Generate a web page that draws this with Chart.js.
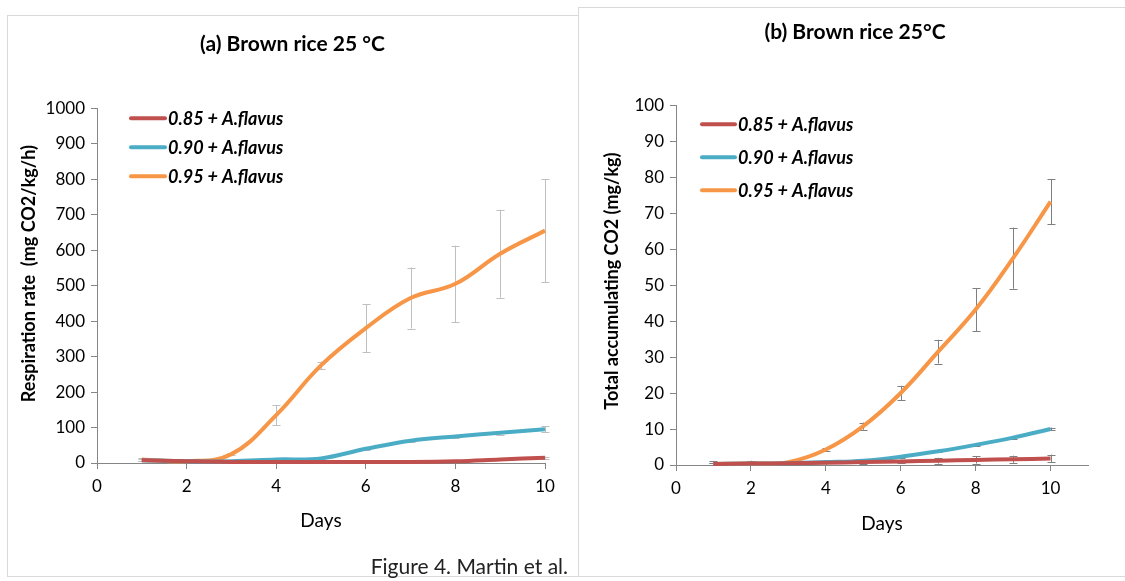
<!DOCTYPE html>
<html>
<head>
<meta charset="utf-8">
<script src="https://cdn.jsdelivr.net/npm/chart.js@4.4.1/dist/chart.umd.min.js"></script>
<style>
  body { margin: 0; width: 1125px; height: 581px; overflow: hidden; position: relative; background: #fff; font-family: Lato, sans-serif; }
  .frame { position: absolute; border: 1px solid #d9d9d9; background: #fff; box-sizing: border-box; }
  #frameA { left: 7px; top: 15px; width: 572px; height: 562px; }
  #frameB { left: 578px; top: 7px; width: 560px; height: 570px; }
  canvas { position: absolute; }
  #chartA { left: 7px; top: 15px; }
  #chartB { left: 579px; top: 8px; }
  #caption { position: absolute; right: 557px; top: 553px; font-size: 21px; line-height: 26px; color: #222; }
</style>
</head>
<body>
<div class="frame" id="frameA"></div>
<div class="frame" id="frameB"></div>
<canvas id="chartA" width="571" height="562"></canvas>
<canvas id="chartB" width="546" height="573"></canvas>
<div id="caption">Figure 4. Martin et al.</div>
<script>
const days = [1, 2, 3, 4, 5, 6, 7, 8, 9, 10];
const seriesLabels = ["0.85 + A.flavus", "0.90 + A.flavus", "0.95 + A.flavus"];
const seriesColors = ["#C0504D", "#4BACC6", "#F79646"];

// (a) respiration rate, mg CO2/kg/h
const rate085 = [8, 5, 3, 3, 3, 3, 3, 5, 10, 15];
const rate090 = [8, 5, 5, 10, 13, 40, 63, 75, 85, 95];
const rate095 = [10, 5, 25, 135, 275, 380, 465, 505, 590, 655];
const rateErr085 = [2, 1, 1, 1, 1, 1, 1, 1, 2, 3];
const rateErr090 = [2, 1, 1, 2, 2, 3, 3, 4, 5, 8];
const rateErr095 = [3, 2, 3, 28, 11, 68, 86, 108, 124, 145];

// (b) total accumulated CO2, mg/kg
const total085 = [0.3, 0.4, 0.5, 0.6, 0.8, 1.0, 1.2, 1.4, 1.6, 1.8];
const total090 = [0.3, 0.4, 0.5, 0.8, 1.2, 2.3, 3.8, 5.6, 7.6, 10.0];
const total095 = [0.3, 0.4, 0.8, 4.3, 10.8, 20.0, 31.5, 43.2, 57.5, 73.2];
const totalErr085 = [0.8, 0.8, 0.5, 0.6, 0.5, 0.5, 0.8, 1.0, 1.0, 1.1];
const totalErr090 = [0.2, 0.2, 0.2, 0.3, 0.3, 0.3, 0.3, 0.3, 0.3, 0.4];
const totalErr095 = [0.2, 0.2, 0.3, 0.4, 1.0, 2.0, 3.3, 6.0, 8.5, 6.3];

const xTicks = [0, 2, 4, 6, 8, 10];

const FONT = "Lato, 'Open Sans', sans-serif";
const AXIS_GREY = "#868686";

function makeDatasets(series, errors) {
    return series.map((vals, s) => ({
        label: seriesLabels[s],
        data: days.map((d, i) => ({ x: d, y: vals[i] })),
        errors: errors[s],
        borderColor: seriesColors[s],
        backgroundColor: seriesColors[s],
        borderWidth: 4,
        pointRadius: 0,
        tension: 0.4,
        clip: 6,
    }));
}

// vertical error bars with small caps, drawn under the lines
const errorBars = {
    id: "errorBars",
    beforeDatasetsDraw(chart, args, opts) {
        const { ctx, scales: { x, y } } = chart;
        ctx.save();
        ctx.strokeStyle = opts.color;
        ctx.lineWidth = 1;
        chart.data.datasets.forEach(ds => {
            ds.data.forEach((p, i) => {
                const err = ds.errors[i];
                const px = Math.round(x.getPixelForValue(p.x)) + 0.5;
                const top = y.getPixelForValue(p.y + err);
                const bot = y.getPixelForValue(Math.max(p.y - err, y.min));
                ctx.beginPath();
                ctx.moveTo(px, top);
                ctx.lineTo(px, bot);
                ctx.moveTo(px - opts.cap, Math.round(top) + 0.5);
                ctx.lineTo(px + opts.cap, Math.round(top) + 0.5);
                if (p.y - err > y.min) {
                    ctx.moveTo(px - opts.cap, Math.round(bot) + 0.5);
                    ctx.lineTo(px + opts.cap, Math.round(bot) + 0.5);
                }
                ctx.stroke();
            });
        });
        ctx.restore();
    },
};

// stacked legend inside the plot area, top left
const insideLegend = {
    id: "insideLegend",
    afterDraw(chart, args, opts) {
        const { ctx, chartArea } = chart;
        ctx.save();
        ctx.font = "italic bold 18px " + FONT;
        ctx.textBaseline = "middle";
        chart.data.datasets.forEach((ds, i) => {
            const lx = chartArea.left + opts.dx;
            const ly = chartArea.top + opts.dy + i * opts.gap;
            ctx.strokeStyle = ds.borderColor;
            ctx.lineWidth = 4;
            ctx.lineCap = "round";
            ctx.beginPath();
            ctx.moveTo(lx, ly);
            ctx.lineTo(lx + opts.len, ly);
            ctx.stroke();
            ctx.fillStyle = "#000";
            ctx.fillText(ds.label, lx + opts.len + 3, ly + 1);
        });
        ctx.restore();
    },
};

// rotated value-axis title, placed a little above the middle of the plot
const yAxisTitle = {
    id: "yAxisTitle",
    afterDraw(chart, args, opts) {
        const { ctx, chartArea } = chart;
        ctx.save();
        ctx.translate(opts.x, (chartArea.top + chartArea.bottom) / 2 + opts.dy);
        ctx.rotate(-Math.PI / 2);
        ctx.font = "bold 18px " + FONT;
        ctx.fillStyle = "#000";
        ctx.textAlign = "center";
        ctx.textBaseline = "middle";
        ctx.fillText(opts.text, 0, 0);
        ctx.restore();
    },
};

function makeOptions(cfg) {
    return {
        responsive: false,
        animation: false,
        layout: { padding: cfg.padding },
        plugins: {
            legend: { display: false },
            tooltip: { enabled: false },
            title: {
                display: true,
                text: cfg.title,
                color: "#000",
                font: { family: FONT, size: 21, weight: "bold" },
                padding: cfg.titlePadding,
            },
            errorBars: { color: cfg.errColor, cap: 4 },
            insideLegend: cfg.legend,
            yAxisTitle: cfg.yTitle,
        },
        scales: {
            x: {
                type: "linear",
                min: 0,
                max: cfg.xMax,
                afterFit: s => { s.height = 70; },
                afterBuildTicks: s => { s.ticks = xTicks.map(v => ({ value: v })); },
                ticks: { color: "#000", font: { family: FONT, size: 17 }, padding: 7 },
                grid: { drawOnChartArea: false, tickLength: 6, tickColor: AXIS_GREY },
                border: { color: AXIS_GREY },
                title: {
                    display: true,
                    text: "Days",
                    color: "#000",
                    font: { family: FONT, size: 19 },
                    padding: { bottom: cfg.xTitlePad },
                },
            },
            y: {
                min: 0,
                max: cfg.yMax,
                afterFit: s => { s.width = cfg.yWidth; },
                ticks: {
                    stepSize: cfg.yStep,
                    color: "#000",
                    font: { family: FONT, size: 17 },
                    padding: 6,
                    callback: v => String(v),
                },
                grid: { drawOnChartArea: false, tickLength: 6, tickColor: AXIS_GREY },
                border: { color: AXIS_GREY },
            },
        },
    };
}

new Chart(document.getElementById("chartA"), {
    type: "line",
    data: { datasets: makeDatasets([rate085, rate090, rate095], [rateErr085, rateErr090, rateErr095]) },
    options: makeOptions({
        title: "(a) Brown rice 25 °C",
        titlePadding: { top: 17, bottom: 51 },
        padding: { left: 33, right: 33, top: 0, bottom: 44 },
        xMax: 10,
        yMax: 1000,
        yStep: 100,
        yWidth: 57,
        yTitle: { text: "Respiration rate  (mg CO2/kg/h)", x: 22, dy: -12 },
        xTitlePad: 1,
        errColor: "#BFBFBF",
        legend: { dx: 34, dy: 10, gap: 29, len: 34 },
    }),
    plugins: [errorBars, insideLegend, yAxisTitle],
});

new Chart(document.getElementById("chartB"), {
    type: "line",
    data: { datasets: makeDatasets([total085, total090, total095], [totalErr085, totalErr090, totalErr095]) },
    options: makeOptions({
        title: "(b) Brown rice 25°C",
        titlePadding: { top: 11.5, bottom: 60.5 },
        padding: { left: 43, right: 37, top: 0, bottom: 46 },
        xMax: 11,
        yMax: 100,
        yStep: 10,
        yWidth: 54,
        yTitle: { text: "Total accumulating CO2 (mg/kg)", x: 33, dy: -4 },
        xTitlePad: 0,
        errColor: "#7F7F7F",
        legend: { dx: 26, dy: 19, gap: 33, len: 33 },
    }),
    plugins: [errorBars, insideLegend, yAxisTitle],
});
</script>
</body>
</html>
